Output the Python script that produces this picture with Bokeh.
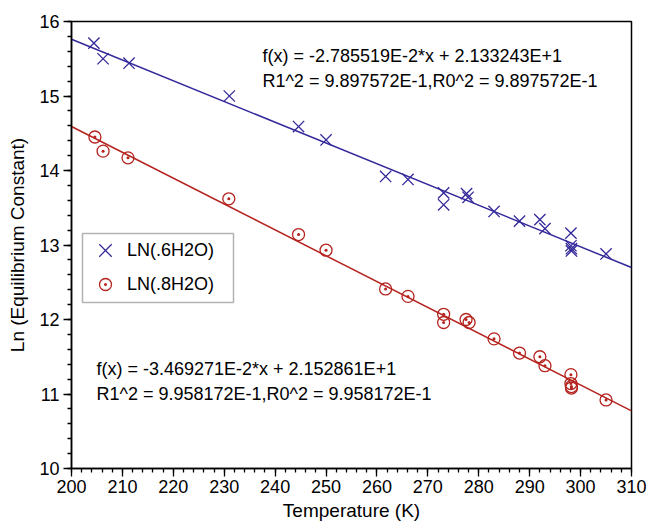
from bokeh.plotting import figure
from bokeh.models import Label, Legend, LegendItem, FixedTicker, Range1d, BoxAnnotation
from bokeh.embed import file_html
from bokeh.resources import INLINE

# Temperature (K) and ln(K) for the 0.6 H2O series
temp_6 = [204.4, 206.2, 211.3, 231.0, 244.6, 250.0, 261.7, 266.1, 273.1, 273.1,
          277.6, 277.9, 283.0, 288.0, 292.0, 293.0, 298.1, 298.1, 298.2, 298.2, 305.0]
ln_6 = [15.71, 15.50, 15.44, 15.00, 14.59, 14.41, 13.92, 13.88, 13.70, 13.54,
        13.69, 13.64, 13.45, 13.32, 13.34, 13.22, 13.16, 12.99, 12.95, 12.92, 12.88]

# Temperature (K) and ln(K) for the 0.8 H2O series
temp_8 = [204.6, 206.2, 211.1, 230.9, 244.6, 250.0, 261.7, 266.1, 273.1, 273.1,
          277.5, 278.1, 283.0, 288.0, 292.0, 293.0, 298.1, 298.1, 298.2, 298.2, 305.0]
ln_8 = [14.45, 14.26, 14.17, 13.62, 13.14, 12.93, 12.41, 12.31, 12.07, 11.96,
        12.00, 11.96, 11.74, 11.55, 11.50, 11.38, 11.26, 11.14, 11.10, 11.08, 10.92]

# Linear fit coefficients (slope, intercept, R^2)
fit_6 = (-2.785519e-2, 2.133243e1, 9.897572e-1)
fit_8 = (-3.469271e-2, 2.152861e1, 9.958172e-1)
fit_span = [200, 310]

series_names = ["LN(.6H2O)", "LN(.8H2O)"]
x_ticks = list(range(200, 311, 10))
y_ticks = list(range(10, 17))

BLUE = "#33289a"
RED = "#b5231f"
FONT = "Liberation Sans"

p = figure(width=648, height=525, output_backend="svg", toolbar_location=None,
           x_range=Range1d(200, 310), y_range=Range1d(10, 16),
           min_border_left=71, min_border_right=17, min_border_top=21,
           min_border_bottom=57)
p.grid.visible = False
p.outline_line_color = "black"
p.outline_line_width = 1.5
p.background_fill_color = "white"
p.border_fill_color = "white"

for ax in (p.xaxis[0], p.yaxis[0]):
    ax.axis_line_color = "black"
    ax.axis_line_width = 1.5
    ax.major_tick_line_color = "black"
    ax.minor_tick_line_color = "black"
    ax.major_tick_line_width = 1.3
    ax.minor_tick_line_width = 1.3
    ax.major_tick_out = 8
    ax.major_tick_in = 0
    ax.minor_tick_out = 4
    ax.minor_tick_in = 0
    ax.major_label_text_font = FONT
    ax.major_label_text_font_size = "18px"
    ax.major_label_text_color = "black"
    ax.axis_label_text_font = FONT
    ax.axis_label_text_font_size = "19px"
    ax.axis_label_text_font_style = "normal"
    ax.axis_label_text_color = "black"

p.xaxis.ticker = FixedTicker(ticks=x_ticks,
                             minor_ticks=[x / 1.0 for x in range(200, 311, 2)])
p.yaxis.ticker = FixedTicker(ticks=y_ticks,
                             minor_ticks=[10 + i * 0.2 for i in range(31)])
p.xaxis.axis_label = "Temperature (K)"
p.yaxis.axis_label = "Ln (Equilibrium Constant)"
p.xaxis.major_label_standoff = 3
p.xaxis.axis_label_standoff = 4
p.yaxis.major_label_standoff = 4
p.yaxis.axis_label_standoff = 8

# fitted lines
p.line(fit_span, [fit_6[0] * x + fit_6[1] for x in fit_span], line_color=BLUE, line_width=1.5)
p.line(fit_span, [fit_8[0] * x + fit_8[1] for x in fit_span], line_color=RED, line_width=1.5)

# measured points
r6 = p.scatter(temp_6, ln_6, marker="x", size=16, line_color=BLUE, line_width=1.3)
r8 = p.scatter(temp_8, ln_8, marker="circle_dot", size=12, line_color=RED,
               fill_color=None, line_width=1.3)

# legend frame (placed in data space, left-middle of the plot)
p.add_layout(BoxAnnotation(left=202.16, right=231.82, bottom=12.228, top=13.154,
                           fill_color="white", fill_alpha=1.0,
                           line_color="black", line_width=1.5, level="annotation"))

legend_style = dict(orientation="vertical", padding=0, spacing=0, margin=0,
                    label_text_font=FONT, label_text_font_size="18px",
                    label_text_color="black", border_line_color=None,
                    background_fill_alpha=0.0)

# one legend per entry so each marker gets its own swatch size
leg_x = Legend(items=[LegendItem(label=series_names[0], renderers=[r6])],
               location=(12, 196), glyph_width=44, glyph_height=44,
               label_height=44, label_standoff=0, **legend_style)
leg_o = Legend(items=[LegendItem(label=series_names[1], renderers=[r8])],
               location=(19, 169), glyph_width=30, glyph_height=30,
               label_height=30, label_standoff=7, **legend_style)
p.add_layout(leg_x)
p.add_layout(leg_o)


def sci(v):
    m, e = f"{v:.6E}".split("E")
    e = int(e)
    return f"{m}E{e:+d}" if e >= 0 else f"{m}E{e}"


for fit, x0, y0 in ((fit_6, 237.5, 15.54), (fit_8, 204.9, 11.33)):
    slope, intercept, r2 = fit
    lines = (f"f(x) = {sci(slope)}*x + {sci(intercept)}",
             f"R1^2 = {sci(r2)},R0^2 = {sci(r2)}")
    for i, t in enumerate(lines):
        p.add_layout(Label(x=x0, y=y0, y_offset=-25 * i, text=t,
                           text_font=FONT, text_font_size="18px",
                           text_color="black", text_baseline="middle",
                           text_align="left"))

open("out.html", "w").write(file_html(p, INLINE))
